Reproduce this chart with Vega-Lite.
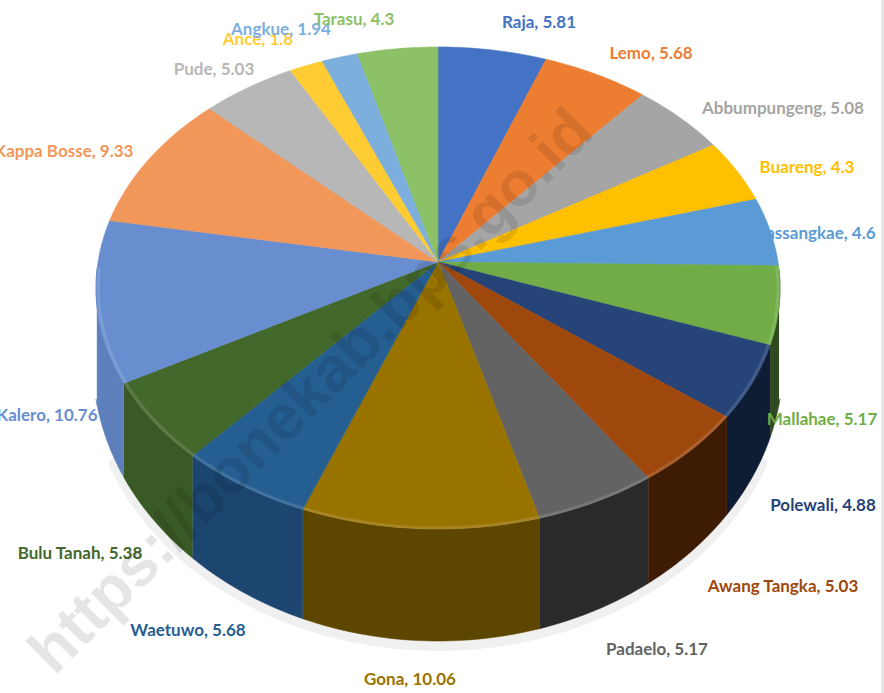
{
"$schema":"https://vega.github.io/schema/vega-lite/v6.json",
"width":884,"height":693,"padding":0,"autosize":"none",
"background":"white",
"config":{"view":{"stroke":null}},
"data":{"values":[
{"name":"Raja","value":5.81},{"name":"Lemo","value":5.68},{"name":"Abbumpungeng","value":5.08},{"name":"Buareng","value":4.3},{"name":"Massangkae","value":4.6},{"name":"Mallahae","value":5.17},{"name":"Polewali","value":4.88},{"name":"Awang Tangka","value":5.03},{"name":"Padaelo","value":5.17},{"name":"Gona","value":10.06},{"name":"Waetuwo","value":5.68},{"name":"Bulu Tanah","value":5.38},{"name":"Kalero","value":10.76},{"name":"Kappa Bosse","value":9.33},{"name":"Pude","value":5.03},{"name":"Ance","value":1.8},{"name":"Angkue","value":1.94},{"name":"Tarasu","value":4.3}]},
"transform":[
{"window":[{"op":"sum","field":"value","as":"cum"}]},
{"joinaggregate":[{"op":"sum","field":"value","as":"total"}]},
{"calculate":"datum.cum-datum.value","as":"start"},
{"calculate":"datum.name+', '+datum.value","as":"label"},
{"calculate":"{'Raja':539,'Lemo':651,'Abbumpungeng':783,'Buareng':807,'Massangkae':813,'Mallahae':822,'Polewali':823,'Awang Tangka':783,'Padaelo':657,'Gona':410,'Waetuwo':188,'Bulu Tanah':80,'Kalero':47,'Kappa Bosse':64,'Pude':214,'Ance':258,'Angkue':281,'Tarasu':354}[datum.name]","as":"lx"},
{"calculate":"{'Raja':23,'Lemo':54,'Abbumpungeng':109,'Buareng':168,'Massangkae':234,'Mallahae':420,'Polewali':506,'Awang Tangka':587,'Padaelo':650,'Gona':680,'Waetuwo':631,'Bulu Tanah':554,'Kalero':416,'Kappa Bosse':152,'Pude':70,'Ance':40,'Angkue':30,'Tarasu':20}[datum.name]","as":"ly"}
],
"layer":[
{"mark":{"type":"rule","color":"#e7e7e7","strokeWidth":3},
 "encoding":{"x":{"datum":882.5,"type":"quantitative","scale":{"domain":[0,884],"nice":false,"zero":false},"axis":null}}},
{"transform":[
 {"calculate":"[0,0.1,0.2,0.3,0.4,0.5,0.6,0.7,0.8,0.9,1]","as":"t"},
 {"flatten":["t"]},
 {"calculate":"2*PI*(datum.start+datum.value*datum.t)/datum.total","as":"th"},
 {"calculate":"datum.th-0.122*sin(datum.th)","as":"phi"},
 {"filter":"cos(datum.phi)<-0.3"},
 {"calculate":"438+342*sin(datum.phi)","as":"vx"},
 {"calculate":"366+279*sqrt(max(0,1-pow((datum.vx-438)/345,2)))","as":"vy"}],
 "mark":{"type":"line","stroke":"#f0f0f0","strokeWidth":12,"strokeCap":"round"},
 "encoding":{"x":{"field":"vx","type":"quantitative","scale":{"domain":[0,884],"nice":false,"zero":false},"axis":null},
 "y":{"field":"vy","type":"quantitative","scale":{"domain":[0,693],"nice":false,"zero":false,"reverse":true},"axis":null},
 "order":{"field":"th","type":"quantitative"}}},
{"transform":[
 {"filter":"datum.name==='Massangkae'"}],
 "mark":{"type":"text","font":"Lato","fontWeight":"bold","fontSize":17},
 "encoding":{"x":{"field":"lx","type":"quantitative","scale":{"domain":[0,884],"nice":false,"zero":false},"axis":null},
 "y":{"field":"ly","type":"quantitative","scale":{"domain":[0,693],"nice":false,"zero":false,"reverse":true},"axis":null},
 "text":{"field":"label"},"color":{"value":"#5b9bd5"}}},
{"transform":[
 {"calculate":"[0,0.05,0.1,0.15,0.2,0.25,0.3,0.35,0.4,0.45,0.5,0.55,0.6,0.65,0.7,0.75,0.8,0.85,0.9,0.95,1,1.0001,1.05,1.1,1.15,1.2,1.25,1.3,1.35,1.4,1.45,1.5,1.55,1.6,1.65,1.7,1.75,1.8,1.85,1.9,1.95,2]","as":"s"},
 {"flatten":["s"]},
 {"calculate":"datum.s<=1?datum.s:2-datum.s","as":"t"},
 {"calculate":"2*PI*(datum.start+datum.value*datum.t)/datum.total","as":"th"},
 {"calculate":"datum.th-0.122*sin(datum.th)","as":"phi"},
 {"filter":"cos(datum.phi)<0.09"},
 {"calculate":"438+342*sin(datum.phi)","as":"vx"},
 {"calculate":"datum.s<=1?288-241*cos(datum.phi):362+279*sqrt(max(0,1-pow((datum.vx-438)/345,2)))","as":"vy"}],
 "mark":{"type":"line","strokeWidth":0.6,"interpolate":"linear"},
 "encoding":{"x":{"field":"vx","type":"quantitative","scale":{"domain":[0,884],"nice":false,"zero":false},"axis":null},
 "y":{"field":"vy","type":"quantitative","scale":{"domain":[0,693],"nice":false,"zero":false,"reverse":true},"axis":null},
 "order":{"field":"s","type":"quantitative"},
 "fill":{"field":"name","type":"nominal","legend":null,"scale":{"domain":["Raja","Lemo","Abbumpungeng","Buareng","Massangkae","Mallahae","Polewali","Awang Tangka","Padaelo","Gona","Waetuwo","Bulu Tanah","Kalero","Kappa Bosse","Pude","Ance","Angkue","Tarasu"],"range":["#2f4f88","#a5571f","#737373","#b08500","#3f6c95","#2f4a1e","#0e1c34","#3e1c04","#2a2a2a","#5c4600","#1c4670","#3a5a25","#5d7fbb","#a86a40","#808080","#b38f24","#56799a","#618748"]}},
 "stroke":{"field":"name","type":"nominal","legend":null,"scale":{"domain":["Raja","Lemo","Abbumpungeng","Buareng","Massangkae","Mallahae","Polewali","Awang Tangka","Padaelo","Gona","Waetuwo","Bulu Tanah","Kalero","Kappa Bosse","Pude","Ance","Angkue","Tarasu"],"range":["#2f4f88","#a5571f","#737373","#b08500","#3f6c95","#2f4a1e","#0e1c34","#3e1c04","#2a2a2a","#5c4600","#1c4670","#3a5a25","#5d7fbb","#a86a40","#808080","#b38f24","#56799a","#618748"]}}}},
{"transform":[
 {"calculate":"[-1,0,0.05,0.1,0.15,0.2,0.25,0.3,0.35,0.4,0.45,0.5,0.55,0.6,0.65,0.7,0.75,0.8,0.85,0.9,0.95,1,2]","as":"s"},
 {"flatten":["s"]},
 {"calculate":"2*PI*(datum.start+datum.value*datum.s)/datum.total","as":"th"},
 {"calculate":"datum.th-0.122*sin(datum.th)","as":"phi"},
 {"calculate":"datum.s<0||datum.s>1?438:438+342*sin(datum.phi)","as":"vx"},
 {"calculate":"datum.s<0||datum.s>1?262:288-241*cos(datum.phi)","as":"vy"}],
 "mark":{"type":"line","strokeWidth":0.6,"interpolate":"linear"},
 "encoding":{"x":{"field":"vx","type":"quantitative","scale":{"domain":[0,884],"nice":false,"zero":false},"axis":null},
 "y":{"field":"vy","type":"quantitative","scale":{"domain":[0,693],"nice":false,"zero":false,"reverse":true},"axis":null},
 "order":{"field":"s","type":"quantitative"},
 "fill":{"field":"name","type":"nominal","legend":null,"scale":{"domain":["Raja","Lemo","Abbumpungeng","Buareng","Massangkae","Mallahae","Polewali","Awang Tangka","Padaelo","Gona","Waetuwo","Bulu Tanah","Kalero","Kappa Bosse","Pude","Ance","Angkue","Tarasu"],"range":["#4472c4","#ed7d31","#a5a5a5","#ffc000","#5b9bd5","#70ad47","#264478","#9e480e","#636363","#997300","#255e91","#43682b","#698ed0","#f1975a","#b7b7b7","#ffcd33","#7cafdd","#8cc168"]}},
 "stroke":{"field":"name","type":"nominal","legend":null,"scale":{"domain":["Raja","Lemo","Abbumpungeng","Buareng","Massangkae","Mallahae","Polewali","Awang Tangka","Padaelo","Gona","Waetuwo","Bulu Tanah","Kalero","Kappa Bosse","Pude","Ance","Angkue","Tarasu"],"range":["#4472c4","#ed7d31","#a5a5a5","#ffc000","#5b9bd5","#70ad47","#264478","#9e480e","#636363","#997300","#255e91","#43682b","#698ed0","#f1975a","#b7b7b7","#ffcd33","#7cafdd","#8cc168"]}}}},
{"transform":[
 {"calculate":"[0,0.1,0.2,0.3,0.4,0.5,0.6,0.7,0.8,0.9,1]","as":"t"},
 {"flatten":["t"]},
 {"calculate":"2*PI*(datum.start+datum.value*datum.t)/datum.total","as":"th"},
 {"calculate":"datum.th-0.122*sin(datum.th)","as":"phi"},
 {"filter":"cos(datum.phi)<0.1"},
 {"calculate":"438+340*sin(datum.phi)","as":"vx"},
 {"calculate":"288-240*cos(datum.phi)","as":"vy"}],
 "mark":{"type":"line","stroke":"#ffffff","strokeWidth":3,"opacity":0.13},
 "encoding":{"x":{"field":"vx","type":"quantitative","scale":{"domain":[0,884],"nice":false,"zero":false},"axis":null},
 "y":{"field":"vy","type":"quantitative","scale":{"domain":[0,693],"nice":false,"zero":false,"reverse":true},"axis":null},
 "order":{"field":"th","type":"quantitative"}}},
{"transform":[{"filter":"datum.name!=='Massangkae'"}],
 "mark":{"type":"text","font":"Lato","fontWeight":"bold","fontSize":17},
 "encoding":{"x":{"field":"lx","type":"quantitative","scale":{"domain":[0,884],"nice":false,"zero":false},"axis":null},
 "y":{"field":"ly","type":"quantitative","scale":{"domain":[0,693],"nice":false,"zero":false,"reverse":true},"axis":null},
 "text":{"field":"label"},
 "color":{"field":"name","type":"nominal","legend":null,"scale":{"domain":["Raja","Lemo","Abbumpungeng","Buareng","Massangkae","Mallahae","Polewali","Awang Tangka","Padaelo","Gona","Waetuwo","Bulu Tanah","Kalero","Kappa Bosse","Pude","Ance","Angkue","Tarasu"],"range":["#4472c4","#ed7d31","#a5a5a5","#ffc000","#5b9bd5","#70ad47","#264478","#9e480e","#636363","#997300","#255e91","#43682b","#698ed0","#f1975a","#b7b7b7","#ffcd33","#7cafdd","#8cc168"]}}}},
{"data":{"values":[{"text":"https://bonekab.bps.go.id","x":312,"y":392}]},
 "transform":[],
 "mark":{"type":"text","font":"Liberation Sans","fontWeight":"bold","fontSize":63,"angle":-45,"fill":"#000000","fillOpacity":0.1},
 "encoding":{"x":{"field":"x","type":"quantitative","scale":{"domain":[0,884],"nice":false,"zero":false},"axis":null},
 "y":{"field":"y","type":"quantitative","scale":{"domain":[0,693],"nice":false,"zero":false,"reverse":true},"axis":null},
 "text":{"field":"text"}}}
],
"resolve":{"scale":{"fill":"independent","stroke":"independent","color":"independent"}}
}
